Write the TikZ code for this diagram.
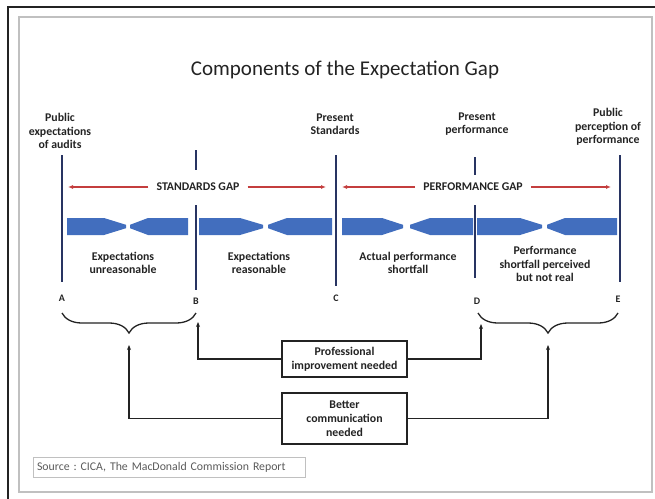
\documentclass[tikz,border=0pt]{standalone}
\usepackage{fontspec}
\setmainfont{Carlito}
\usetikzlibrary{decorations.pathreplacing,arrows.meta}
\frenchspacing
\definecolor{postnavy}{RGB}{40,52,98}
\definecolor{barblue}{RGB}{66,110,190}
\definecolor{gapred}{RGB}{196,62,62}
\definecolor{framegray}{RGB}{192,192,192}
\definecolor{ink}{RGB}{35,35,35}
\definecolor{srcgray}{RGB}{90,90,90}

% one tapered bar: flat end at #1, shoulder at #2, narrow neck at #3
\newcommand\gapbar[3]{%
  \fill[barblue] (#1,218) -- (#2,218) -- (#3,224.8) -- (#3,228.2) -- (#2,235) -- (#1,235) -- cycle;}

\begin{document}
\begin{tikzpicture}[x=1pt,y=-1pt,
  lbl/.style={font=\bfseries\fontsize{11.8}{13.5}\selectfont, align=center, text=ink, inner sep=0pt},
  letter/.style={font=\bfseries\fontsize{10}{12}\selectfont, text=ink, inner sep=0pt},
  post/.style={draw=postnavy, line width=2.4pt},
  gaparrow/.style={draw=gapred, line width=1.3pt, -{Latex[length=5pt,width=4pt]}},
  needbox/.style={draw=ink, line width=1.5pt, fill=white, align=center,
    font=\bfseries\fontsize{11.8}{14}\selectfont, text=ink, minimum width=125pt, inner sep=2pt},
  link/.style={draw=ink, line width=1.4pt, -{Stealth[length=5pt,width=4pt]}},
  curly/.style={draw=ink, line width=1.3pt, decorate, decoration={brace, amplitude=20pt}}
]
\useasboundingbox (0,0) rectangle (655,498);

% frames
\draw[framegray, line width=1.8pt] (19,17) rectangle (652,492);
\draw[ink, line width=1.3pt] (8,500) -- (8,7) -- (657,7);

% title
\node[font=\fontsize{21}{25}\selectfont, text=ink] (title) at (345,70) {Components of the Expectation Gap};

% labels above the posts
\node[lbl] (topA) at (60,131) {Public\\expectations\\of audits};
\node[lbl] (topC) at (335,124) {Present\\Standards};
\node[lbl] (topD) at (477,124) {Present\\performance};
\node[lbl] (topE) at (608,127) {Public\\perception of\\performance};

% posts
\draw[post] (62,155) -- (62,282);
\draw[post] (196,150) -- (196,170);
\draw[post] (196,205) -- (196,290);
\draw[post] (336,155) -- (336,286);
\draw[post] (475,157) -- (475,175);
\draw[post] (475,205) -- (475,278);
\draw[post] (620,155) -- (620,282);

% gap labels with arrows
\node[lbl] (sgap) at (198,187) {STANDARDS GAP};
\node[lbl] (pgap) at (473,187) {PERFORMANCE GAP};
\coordinate (sgapL) at (68,187);
\coordinate (sgapR) at (326,187);
\coordinate (pgapL) at (342,187);
\coordinate (pgapR) at (611,187);
\draw[gaparrow] ([xshift=-8pt]sgap.west) -- (sgapL);
\draw[gaparrow] ([xshift=8pt]sgap.east) -- (sgapR);
\draw[gaparrow] ([xshift=-8pt]pgap.west) -- (pgapL);
\draw[gaparrow] ([xshift=8pt]pgap.east) -- (pgapR);

% tapered bars
\gapbar{67}{104}{126}
\gapbar{188}{148}{130}
\gapbar{199}{240}{263}
\gapbar{332}{287}{268}
\gapbar{342}{382}{403}
\gapbar{473}{430}{410}
\gapbar{477}{520}{542}
\gapbar{617}{565}{547}

% segment labels
\node[lbl] (segAB) at (123,263) {Expectations\\unreasonable};
\node[lbl] (segBC) at (259,263) {Expectations\\reasonable};
\node[lbl] (segCD) at (408,263) {Actual performance\\shortfall};
\node[lbl] (segDE) at (545,264) {Performance\\shortfall perceived\\but not real};

% point letters
\node[letter] (A) at (62,298) {A};
\node[letter] (B) at (196,301) {B};
\node[letter] (C) at (336,298) {C};
\node[letter] (D) at (477,301) {D};
\node[letter] (E) at (618,299) {E};

% braces
\draw[curly] (196,313) -- (62,313);
\draw[curly] (618,313) -- (478,313);
\coordinate (braceAB) at (129,345);
\coordinate (braceDE) at (548,345);
\coordinate (atB) at (198,322);
\coordinate (atD) at (481,324);

% remedy boxes
\node[needbox, minimum height=36pt] (prof) at (344.5,359) {Professional\\improvement needed};
\node[needbox, minimum height=51pt] (better) at (344.5,418.5) {Better\\communication\\needed};

\draw[link] (prof.west) -| (atB);
\draw[link] (prof.east) -| (atD);
\draw[link] (better.west) -| (braceAB);
\draw[link] (better.east) -| (braceDE);

% source note
\node[draw=framegray, line width=1pt, minimum width=272pt, minimum height=20pt, text width=264pt,
  align=left, font=\fontsize{11.8}{13}\selectfont, text=srcgray, inner sep=3pt] (src) at (169,467)
  {Source : CICA, The MacDonald Commission Report};
\end{tikzpicture}
\end{document}
